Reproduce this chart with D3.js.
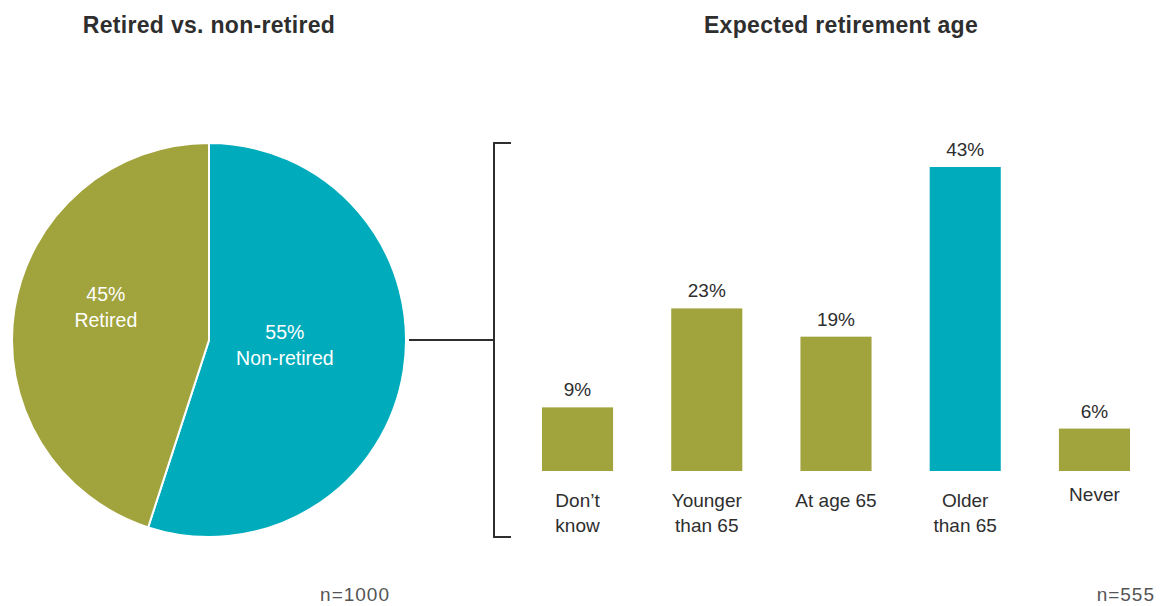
<!DOCTYPE html>
<html>
<head>
<meta charset="utf-8">
<script src="https://cdn.jsdelivr.net/npm/d3@7"></script>
<style>
  html, body { margin: 0; padding: 0; background: #ffffff; }
  svg { display: block; }
  text { font-family: "Liberation Sans", Arial, sans-serif; }
</style>
</head>
<body>
<svg id="chart" width="1161" height="606"></svg>
<script>
// Retired vs. non-retired split (all respondents)
const pieLabels = ["Non-retired", "Retired"];
const pieValues = [55, 45];

// Expected retirement age among the non-retired
const ageCategories = ["Don\u2019t know", "Younger than 65", "At age 65", "Older than 65", "Never"];
const ageLines = [["Don\u2019t", "know"], ["Younger", "than 65"], ["At age 65"], ["Older", "than 65"], ["Never"]];
const ageValues = [9, 23, 19, 43, 6];
const highlighted = ["Older than 65"];

const sampleSizes = ["n=1000", "n=555"];

const OLIVE = "#a1a33c";
const TEAL = "#00acbc";
const INK = "#2e2e2e";

const svg = d3.select("#chart");

// ---- Titles ----
const titleStyle = sel => sel
  .attr("text-anchor", "middle")
  .attr("font-size", 23).attr("font-weight", "bold")
  .attr("letter-spacing", 0.3)
  .attr("fill", INK);

svg.append("text").attr("x", 209).attr("y", 33).call(titleStyle)
  .text("Retired vs. non-retired");
svg.append("text").attr("x", 841).attr("y", 33).call(titleStyle)
  .text("Expected retirement age");

// ---- Pie ----
const cx = 209, cy = 340, radius = 197;
const pie = d3.pie().sort(null).value(d => d.value);
const arc = d3.arc().innerRadius(0).outerRadius(radius);
const slices = pie(pieLabels.map((l, i) => ({ label: l, value: pieValues[i] })));
const pieG = svg.append("g").attr("transform", `translate(${cx},${cy})`);
pieG.selectAll("path").data(slices).join("path")
  .attr("d", arc)
  .attr("fill", (d, i) => i === 0 ? TEAL : OLIVE)
  .attr("stroke", "#ffffff")
  .attr("stroke-width", 2);

// label placement: distance from centre (fraction of radius) and vertical nudge per slice
const labelRadius = [0.39, 0.53];
const labelLift = [-7, -17];
const pieText = pieG.selectAll("text.plab").data(slices).join("text")
  .attr("class", "plab")
  .attr("text-anchor", "middle")
  .attr("fill", "#ffffff")
  .attr("font-size", 19.5)
  .attr("transform", (d, i) => {
    const r = radius * labelRadius[i];
    const [x, y] = d3.arc().innerRadius(r).outerRadius(r).centroid(d);
    return `translate(${x},${y + labelLift[i]})`;
  });
pieText.append("tspan").attr("x", 0).attr("y", -6).text(d => d.data.value + "%");
pieText.append("tspan").attr("x", 0).attr("y", 20).text(d => d.data.label);

// ---- Bracket connecting the non-retired slice to the bar chart ----
const bracketX = 494, bracketTop = 143, bracketBottom = 537;
const bracket = svg.append("g")
  .attr("stroke", INK).attr("stroke-width", 2).attr("fill", "none");
bracket.append("line").attr("x1", cx + radius + 3).attr("x2", bracketX).attr("y1", cy).attr("y2", cy);
bracket.append("path")
  .attr("d", `M${bracketX + 17},${bracketTop} H${bracketX} V${bracketBottom} H${bracketX + 17}`);

// ---- Bars ----
const x = d3.scaleBand().domain(ageCategories).range([542, 1130]).paddingInner(0.45).paddingOuter(0);
const y = d3.scaleLinear().domain([0, 43]).range([471, 167]);

const barG = svg.append("g");
barG.selectAll("rect").data(ageCategories).join("rect")
  .attr("x", d => x(d))
  .attr("y", (d, i) => y(ageValues[i]))
  .attr("width", x.bandwidth())
  .attr("height", (d, i) => y(0) - y(ageValues[i]))
  .attr("fill", d => highlighted.includes(d) ? TEAL : OLIVE);

barG.selectAll("text.val").data(ageCategories).join("text")
  .attr("class", "val")
  .attr("x", d => x(d) + x.bandwidth() / 2)
  .attr("y", (d, i) => y(ageValues[i]) - 11)
  .attr("text-anchor", "middle")
  .attr("font-size", 19)
  .attr("fill", INK)
  .text((d, i) => ageValues[i] + "%");

const catText = barG.selectAll("text.cat").data(ageCategories).join("text")
  .attr("class", "cat")
  .attr("text-anchor", "middle")
  .attr("font-size", 19)
  .attr("fill", INK)
  .attr("x", d => x(d) + x.bandwidth() / 2)
  .attr("y", (d, i) => ageCategories[i] === "Never" ? 501 : 507);
catText.each(function(d, i) {
  const t = d3.select(this);
  ageLines[i].forEach((line, j) => {
    t.append("tspan")
      .attr("x", x(d) + x.bandwidth() / 2)
      .attr("dy", j === 0 ? 0 : 25)
      .text(line);
  });
});

// ---- Sample sizes ----
const nStyle = sel => sel
  .attr("text-anchor", "end")
  .attr("font-size", 19).attr("letter-spacing", 1)
  .attr("fill", "#555555");
svg.append("text").attr("x", 390).attr("y", 601).call(nStyle).text(sampleSizes[0]);
svg.append("text").attr("x", 1155).attr("y", 601).call(nStyle).text(sampleSizes[1]);
</script>
</body>
</html>
